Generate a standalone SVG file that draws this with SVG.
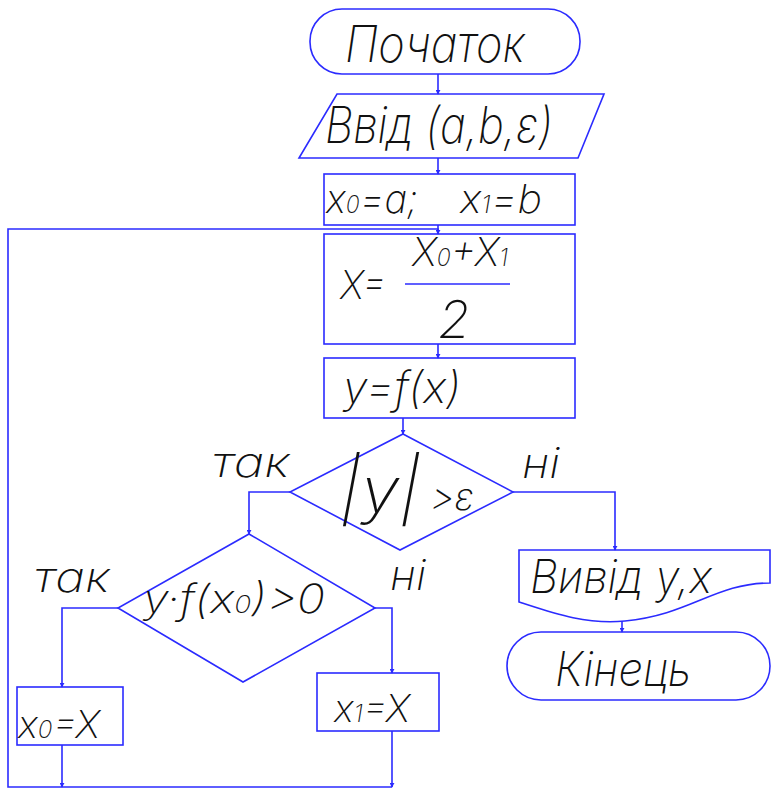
<svg xmlns="http://www.w3.org/2000/svg" width="771" height="789" viewBox="0 0 771 789">
<style>
.s{fill:none;stroke:#2b2bff;stroke-width:1.6}
.c{fill:none;stroke:#2b2bff;stroke-width:1.6}
.t{font-family:Inter,"Open Sans","Liberation Sans",sans-serif;font-weight:200;font-style:italic;fill:#111}
</style>
<defs>
<marker id="a" viewBox="0 0 6 6" refX="5" refY="3" markerWidth="5" markerHeight="5" orient="auto" markerUnits="userSpaceOnUse">
<path d="M0,0 L6,3 L0,6 Z" fill="#2b2bff"/>
</marker>
</defs>
<g id="connectors">
<path class="c" d="M438,74 V94" marker-end="url(#a)"/>
<path class="c" d="M438,158 V174" marker-end="url(#a)"/>
<path class="c" d="M438,225 V234" marker-end="url(#a)"/>
<path class="c" d="M438,344 V358" marker-end="url(#a)"/>
<path class="c" d="M403,418 V434" marker-end="url(#a)"/>
<path class="c" d="M513,492 H615 V550" marker-end="url(#a)"/>
<path class="c" d="M290,492 H249 V534" marker-end="url(#a)"/>
<path class="c" d="M118,608 H62 V687" marker-end="url(#a)"/>
<path class="c" d="M375,608 H392 V673" marker-end="url(#a)"/>
<path class="c" d="M62,745 V787" marker-end="url(#a)"/>
<path class="c" d="M392,731 V787" marker-end="url(#a)"/>
<path class="c" d="M392,787 H8 V229 H438 V234"/>
<path class="c" d="M622,621 V632" marker-end="url(#a)"/>
</g>
<g id="start">
<rect class="s" x="310" y="9" width="270" height="65" rx="32"/>
<text class="t" x="345" y="62" font-size="50" textLength="180" lengthAdjust="spacingAndGlyphs">Початок</text>
</g>
<g id="input">
<path class="s" d="M337,94 H604 L578,158 H299 Z"/>
<text class="t" x="325" y="143" font-size="50" textLength="228" lengthAdjust="spacingAndGlyphs">Ввід (a,b,ε)</text>
</g>
<g id="init">
<rect class="s" x="324" y="174" width="251" height="51"/>
<text class="t" x="326" y="213" font-size="40" textLength="92" lengthAdjust="spacingAndGlyphs">x<tspan font-size="24">0</tspan>=a;</text>
<text class="t" x="460" y="213" font-size="40" textLength="82" lengthAdjust="spacingAndGlyphs">x<tspan font-size="24">1</tspan>=b</text>
</g>
<g id="mid">
<rect class="s" x="324" y="234" width="251" height="110"/>
<text class="t" x="340" y="299" font-size="40" textLength="46" lengthAdjust="spacingAndGlyphs">X=</text>
<text class="t" x="412" y="266" font-size="40" textLength="96" lengthAdjust="spacingAndGlyphs">X<tspan font-size="24">0</tspan>+X<tspan font-size="24">1</tspan></text>
<line class="s" x1="405" y1="284" x2="510" y2="284"/>
<text class="t" x="438" y="338" font-size="52">2</text>
</g>
<g id="func">
<rect class="s" x="324" y="358" width="251" height="60"/>
<text class="t" x="343" y="403" font-size="44" textLength="118" lengthAdjust="spacingAndGlyphs">y=f(x)</text>
</g>
<g id="cond1">
<path class="s" d="M403,434 L513,492 L400,550 L290,492 Z"/>
<text class="t" x="340" y="512" font-size="62" textLength="80" lengthAdjust="spacingAndGlyphs">|y|</text>
<text class="t" x="430" y="510" font-size="38">&gt;ε</text>
<text class="t" x="212" y="477" font-size="42" textLength="78" lengthAdjust="spacingAndGlyphs">так</text>
<text class="t" x="522" y="478" font-size="42" textLength="38" lengthAdjust="spacingAndGlyphs">ні</text>
</g>
<g id="cond2">
<path class="s" d="M249,534 L375,608 L243,682 L118,608 Z"/>
<text class="t" x="143" y="613" font-size="40" textLength="182" lengthAdjust="spacingAndGlyphs">y·f(x<tspan font-size="24">0</tspan>)&gt;0</text>
<text class="t" x="34" y="592" font-size="42" textLength="76" lengthAdjust="spacingAndGlyphs">так</text>
<text class="t" x="390" y="590" font-size="42" textLength="36" lengthAdjust="spacingAndGlyphs">ні</text>
</g>
<g id="set0">
<rect class="s" x="17" y="687" width="106" height="58"/>
<text class="t" x="18" y="738" font-size="38" textLength="82" lengthAdjust="spacingAndGlyphs">x<tspan font-size="24">0</tspan>=X</text>
</g>
<g id="set1">
<rect class="s" x="317" y="673" width="122" height="58"/>
<text class="t" x="334" y="722" font-size="38" textLength="76" lengthAdjust="spacingAndGlyphs">x<tspan font-size="24">1</tspan>=X</text>
</g>
<g id="output">
<path class="s" d="M519,550 H770 V583 C715,583 690,615 625,621 C585,625 550,612 519,602 Z"/>
<text class="t" x="530" y="593" font-size="46" textLength="182" lengthAdjust="spacingAndGlyphs">Вивід y,x</text>
</g>
<g id="end">
<rect class="s" x="507" y="632" width="263" height="68" rx="34"/>
<text class="t" x="555" y="686" font-size="48" textLength="136" lengthAdjust="spacingAndGlyphs">Кінець</text>
</g>
</svg>
